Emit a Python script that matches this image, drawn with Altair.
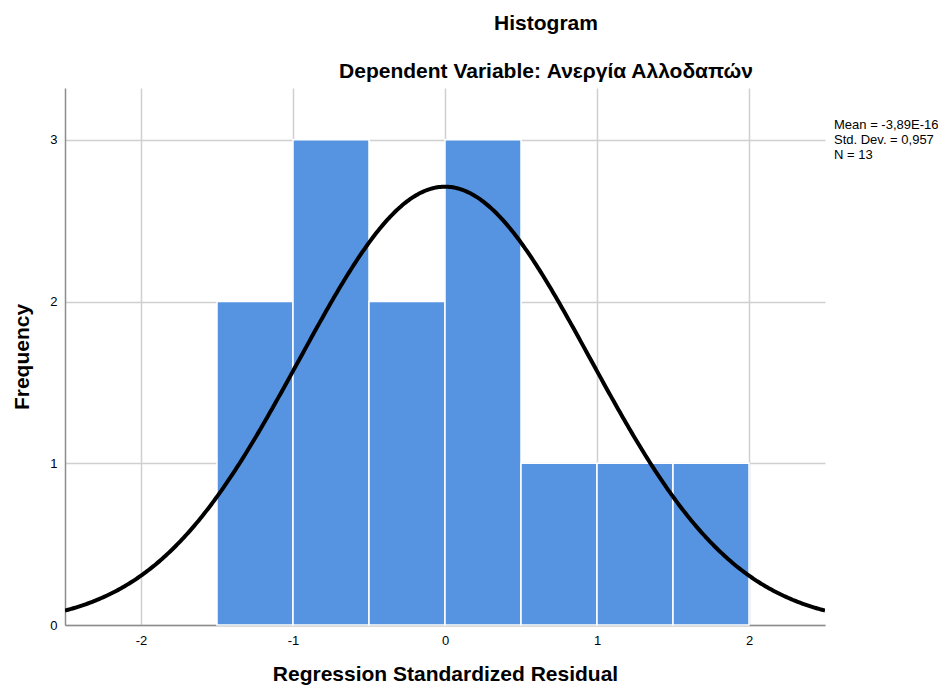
import altair as alt
import pandas as pd

# Histogram bins (regression standardized residuals) and counts
bin_start = [-1.5, -1.0, -0.5, 0.0, 0.5, 1.0, 1.5]
bin_end = [-1.0, -0.5, 0.0, 0.5, 1.0, 1.5, 2.0]
counts = [2, 3, 2, 3, 1, 1, 1]

# Summary stats shown in the legend
mean_val = -3.89e-16
std_dev = 0.957
n_obs = 13
bin_width = 0.5
legend_lines = ["Mean = -3,89E-16", "Std. Dev. = 0,957", "N = 13"]

x_ticks = [-2, -1, 0, 1, 2]
y_ticks = [0, 1, 2, 3]

FONT = "Liberation Sans"
W, H = 760, 537

bars_df = pd.DataFrame({"start": bin_start, "end": bin_end, "count": counts})

xscale = alt.Scale(domain=[-2.5, 2.5], nice=False, zero=False)
yscale = alt.Scale(domain=[0, 3.32], nice=False)

bars = alt.Chart(bars_df).mark_rect(
    color="#5694E2", stroke="white", strokeWidth=1.5
).encode(
    x=alt.X("start:Q", scale=xscale,
            axis=alt.Axis(values=x_ticks, title="Regression Standardized Residual",
                          labelExpr="'' + datum.value",
                          grid=True, ticks=False, labelPadding=9, titlePadding=16)),
    x2="end:Q",
    y=alt.Y("count:Q", scale=yscale,
            axis=alt.Axis(values=y_ticks, title="Frequency", grid=True, ticks=False,
                          labelExpr="'' + datum.value",
                          labelPadding=8, titlePadding=17)),
    y2=alt.datum(0),
)

curve = alt.Chart(alt.sequence(-2.5, 2.5005, 0.01, as_="x")).transform_calculate(
    y=f"{n_obs} * {bin_width} * densityNormal(datum.x, {mean_val}, {std_dev})"
).mark_line(color="black", strokeWidth=4, clip=True).encode(
    x=alt.X("x:Q", scale=xscale),
    y=alt.Y("y:Q", scale=yscale),
)

legend = alt.Chart(pd.DataFrame({"t": ["\n".join(legend_lines)]})).mark_text(
    align="left", baseline="top", fontSize=13, font=FONT, lineBreak="\n",
    lineHeight=15, color="black"
).encode(
    x=alt.value(W + 9), y=alt.value(31), text="t:N"
)

chart = alt.layer(bars, curve, legend).properties(
    width=W, height=H,
    padding={"left": 57, "top": 80, "right": 113, "bottom": 61},
    autosize=alt.AutoSizeParams(type="none"),
    title=alt.Title(
        "Histogram",
        subtitle="Dependent Variable: Ανεργία Αλλοδαπών",
        anchor="middle", dx=101, offset=6, fontSize=21, subtitleFontSize=21,
        font=FONT, subtitleFont=FONT, fontWeight="bold", subtitleFontWeight="bold",
        subtitleColor="black", color="black", subtitlePadding=27,
    ),
).configure_view(stroke=None).configure_axis(
    labelFont=FONT, titleFont=FONT, labelFontSize=13, titleFontSize=21,
    labelColor="black", titleColor="black", titleFontWeight="bold",
    gridColor="#d0d0d0", gridWidth=1.5, domainColor="#8c8c8c", domainWidth=1.5,
)

chart.save("out.html", embed_options={"renderer": "svg", "actions": False})
